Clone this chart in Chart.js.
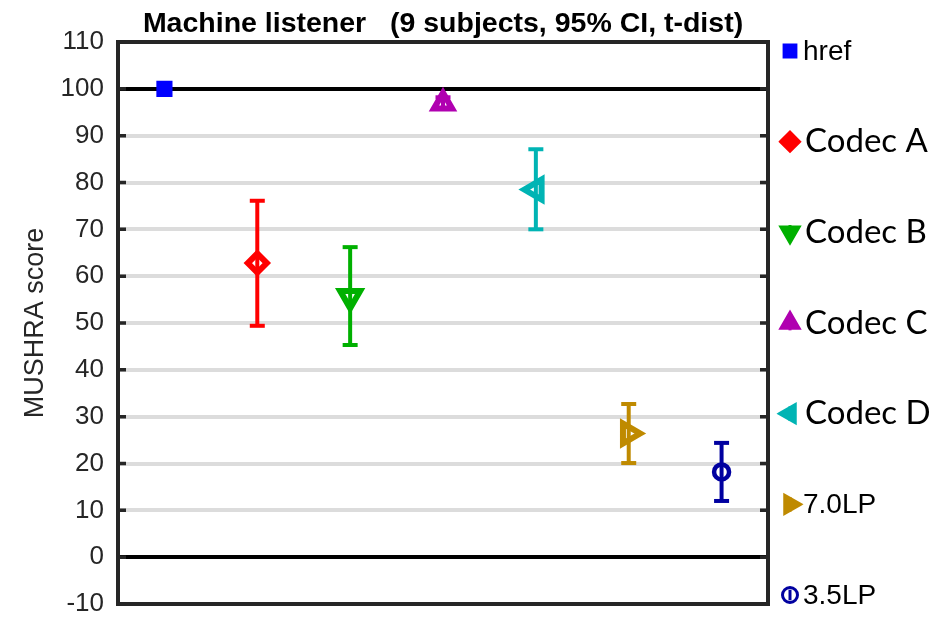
<!DOCTYPE html>
<html>
<head>
<meta charset="utf-8">
<script src="https://cdn.jsdelivr.net/npm/chart.js@4.4.1/dist/chart.umd.min.js"></script>
<style>
  body { margin: 0; background: #fff; }
</style>
</head>
<body>
<canvas id="mushra" width="948" height="618"></canvas>
<script>
// listening test results
const categories = ['href', 'Codec A', 'Codec B', 'Codec C', 'Codec D', '7.0LP', '3.5LP'];
const means  = [100, 62.8, 55.6, 96.9, 78.5, 26.4, 18.2];
const ciLow  = [100, 49.4, 45.3, 95.8, 70.0, 20.1, 12.0];
const ciHigh = [100, 76.1, 66.2, 98.2, 87.1, 32.7, 24.4];
const yTicks = [-10, 0, 10, 20, 30, 40, 50, 60, 70, 80, 90, 100, 110];

const colors = ['#0000ff', '#ff0000', '#00b000', '#b000b0', '#00b4b4', '#bf8a00', '#0000a0'];
const markers = [
  {style: 'rect', radius: 10, rotation: 0, border: 2, fill: true},
  {style: 'rectRot', radius: 9.5, rotation: 0, border: 6},
  {style: 'triangle', radius: 11.5, rotation: 180, border: 6},
  {style: 'triangle', radius: 10.5, rotation: 0, border: 6},
  {style: 'triangle', radius: 11.5, rotation: 270, border: 6},
  {style: 'triangle', radius: 11.5, rotation: 90, border: 6},
  {style: 'circle', radius: 7.5, rotation: 0, border: 4.5}
];
const axisColor = '#262626';

const datasets = [];
categories.forEach((name, i) => {
  const m = markers[i];
  datasets.push({
    label: name,
    data: [{x: i + 1, y: means[i]}],
    pointStyle: m.style,
    pointRotation: m.rotation,
    pointRadius: m.radius,
    pointBackgroundColor: m.fill ? colors[i] : 'rgba(0,0,0,0)',
    pointBorderColor: colors[i],
    pointBorderWidth: m.border,
    order: 0
  });
  if (ciHigh[i] > ciLow[i]) {
    // error bar: vertical line with 'line' point style as the caps
    datasets.push({
      type: 'line',
      label: name + ' CI',
      data: [{x: i + 1, y: ciLow[i]}, {x: i + 1, y: ciHigh[i]}],
      borderColor: colors[i],
      borderWidth: 4,
      pointStyle: 'line',
      pointRadius: 7.5,
      pointBorderWidth: 4,
      pointBorderColor: colors[i],
      fill: false,
      order: 1
    });
  }
});

const sideLegend = {
  id: 'sideLegend',
  afterDraw(chart) {
    const {ctx, chartArea: a} = chart;
    const y = chart.scales.y;
    ctx.save();
    // box
    ctx.strokeStyle = axisColor;
    ctx.lineWidth = 4;
    ctx.beginPath();
    ctx.moveTo(a.left - 2, a.top);
    ctx.lineTo(a.right, a.top);
    ctx.lineTo(a.right, a.bottom);
    ctx.lineTo(a.left - 2, a.bottom);
    ctx.stroke();
    // inward ticks on both sides
    ctx.lineWidth = 3.5;
    yTicks.forEach(v => {
      const py = y.getPixelForValue(v);
      ctx.beginPath();
      ctx.moveTo(a.left, py);
      ctx.lineTo(a.left + 8, py);
      ctx.moveTo(a.right - 8, py);
      ctx.lineTo(a.right, py);
      ctx.stroke();
    });
    // legend entries to the right
    const step = (a.bottom - a.top - 18) / (categories.length - 1);
    const mx = a.right + 22;
    categories.forEach((name, i) => {
      const cy = a.top + 9 + i * step;
      const m = markers[i];
      const hollow = m.style === 'circle';
      ctx.strokeStyle = colors[i];
      ctx.fillStyle = hollow ? 'rgba(0,0,0,0)' : colors[i];
      const r = m.style === 'rect' ? 8 : m.style === 'triangle' ? 10.5 : m.radius;
      Chart.helpers.drawPoint(ctx, {pointStyle: m.style, radius: r, rotation: m.rotation, borderWidth: hollow ? 4 : 2}, mx, cy);
      ctx.lineWidth = 3;
      ctx.beginPath();
      ctx.moveTo(mx, cy - r * 0.7);
      ctx.lineTo(mx, cy + r * 0.7);
      ctx.stroke();
      const codec = name.startsWith('Codec');
      ctx.fillStyle = '#000';
      ctx.font = codec ? '33px Lato' : '28px "Liberation Sans"';
      ctx.textBaseline = 'middle';
      ctx.textAlign = 'left';
      ctx.fillText(name, mx + (codec ? 15 : 13), cy + (codec ? 0 : 1));
    });
    ctx.restore();
  }
};

new Chart(document.getElementById('mushra'), {
  type: 'scatter',
  data: {datasets: datasets},
  plugins: [sideLegend],
  options: {
    responsive: false,
    animation: false,
    layout: {autoPadding: false, padding: {top: 0, right: 180, bottom: 14, left: 0}},
    plugins: {
      legend: {display: false},
      tooltip: {enabled: false},
      title: {
        display: true,
        text: 'Machine listener   (9 subjects, 95% CI, t-dist)',
        fullSize: false,
        color: '#000',
        font: {family: '"Liberation Sans"', size: 28.5, weight: 'bold'},
        padding: {top: 7, bottom: 0.8}
      }
    },
    scales: {
      x: {
        type: 'linear',
        min: 0.5,
        max: 7.5,
        display: false
      },
      y: {
        min: -10,
        max: 110,
        afterFit(scale) {
          scale.width = 118;
          scale.paddingTop = 0;
          scale.paddingBottom = 0;
        },
        afterBuildTicks(scale) { scale.ticks = yTicks.map(v => ({value: v})); },
        ticks: {
          stepSize: 10,
          padding: 14,
          color: axisColor,
          font: {family: '"Liberation Sans"', size: 26}
        },
        grid: {
          drawTicks: false,
          lineWidth: 4,
          color: c => (c.tick && (c.tick.value === 0 || c.tick.value === 100)) ? '#000' : '#dcdcdc'
        },
        border: {color: axisColor, width: 4},
        title: {
          display: true,
          text: 'MUSHRA score',
          color: axisColor,
          font: {family: '"Liberation Sans"', size: 27},
          padding: {top: 19, bottom: 0}
        }
      }
    }
  }
});
</script>
</body>
</html>
